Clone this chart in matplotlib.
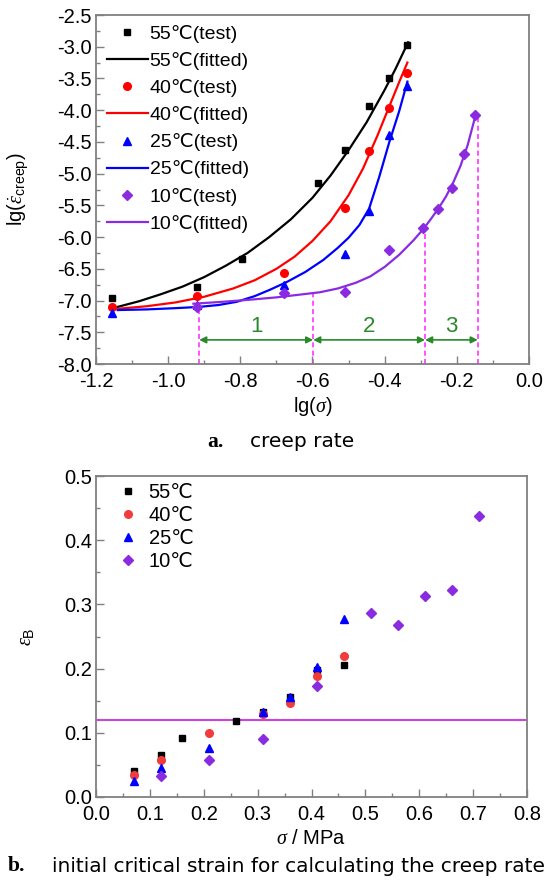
import matplotlib
matplotlib.use("Agg")
import matplotlib.pyplot as plt
import numpy as np
from matplotlib.ticker import MultipleLocator, FormatStrFormatter

plt.rcParams['font.family'] = ['Liberation Sans Narrow', 'Liberation Sans', 'DejaVu Sans']
plt.rcParams['axes.unicode_minus'] = False
plt.rcParams['mathtext.fontset'] = 'custom'
plt.rcParams['mathtext.rm'] = 'Liberation Sans'
plt.rcParams['mathtext.it'] = 'Liberation Serif:italic'

# ---- a. creep rate (test points) ----
sigma_55 = [0.07, 0.12, 0.16, 0.26, 0.31, 0.36, 0.41, 0.46]
lgrate_55 = [-6.96, -6.78, -6.35, -5.15, -4.62, -3.93, -3.50, -2.98]
sigma_40 = [0.07, 0.12, 0.21, 0.31, 0.36, 0.41, 0.46]
lgrate_40 = [-7.10, -6.93, -6.57, -5.54, -4.65, -3.96, -3.41]
sigma_25 = [0.07, 0.12, 0.21, 0.31, 0.36, 0.41, 0.46]
lgrate_25 = [-7.20, -7.07, -6.75, -6.27, -5.59, -4.39, -3.62]
sigma_10 = [0.12, 0.21, 0.31, 0.41, 0.51, 0.56, 0.61, 0.66, 0.71]
lgrate_10 = [-7.10, -6.88, -6.87, -6.20, -5.86, -5.56, -5.22, -4.69, -4.07]

# fitted curves
fit55_x = [-1.14, -1.08, -1.02, -0.96, -0.90, -0.84, -0.78, -0.72, -0.66,
           -0.60, -0.55, -0.50, -0.45, -0.40, -0.37, -0.335]
fit55_y = [-7.10, -7.01, -6.90, -6.78, -6.63, -6.45, -6.25, -6.00, -5.72,
           -5.38, -5.03, -4.63, -4.19, -3.68, -3.35, -2.93]
fit40_x = [-1.14, -1.06, -0.98, -0.90, -0.82, -0.76, -0.70, -0.65, -0.60,
           -0.55, -0.50, -0.46, -0.42, -0.39, -0.36, -0.337]
fit40_y = [-7.13, -7.09, -7.03, -6.94, -6.81, -6.68, -6.50, -6.31, -6.06,
           -5.75, -5.34, -4.92, -4.40, -3.98, -3.56, -3.25]
fit25_x = [-1.14, -1.06, -0.98, -0.914, -0.86, -0.81, -0.76, -0.718, -0.672,
           -0.62, -0.57, -0.53, -0.50, -0.47, -0.443, -0.415, -0.387, -0.36, -0.337]
fit25_y = [-7.15, -7.14, -7.12, -7.10, -7.07, -7.02, -6.93, -6.83, -6.71,
           -6.55, -6.36, -6.17, -6.01, -5.81, -5.55, -5.05, -4.50, -4.02, -3.55]
fit10_x = [-0.93, -0.85, -0.78, -0.70, -0.64, -0.58, -0.53, -0.48, -0.44, -0.40,
           -0.36, -0.32, -0.291, -0.27, -0.25, -0.23, -0.21, -0.19, -0.17, -0.149]
fit10_y = [-7.05, -7.02, -6.99, -6.95, -6.91, -6.87, -6.81, -6.72, -6.62, -6.47,
           -6.28, -6.05, -5.86, -5.70, -5.54, -5.36, -5.14, -4.88, -4.55, -4.10]

# stage boundaries (dashed) and zone labels
bound_x = [-0.914, -0.598, -0.288, -0.142]
bound_top = [-7.10, -6.89, -5.86, -4.07]
zone_labels = ['1', '2', '3']

# ---- b. initial critical strain ----
eps_55 = [0.040, 0.066, 0.092, 0.119, 0.132, 0.156, 0.198, 0.205]
eps_40 = [0.034, 0.057, 0.100, 0.129, 0.147, 0.189, 0.219]
eps_25 = [0.025, 0.045, 0.077, 0.133, 0.155, 0.203, 0.278]
eps_10 = [0.033, 0.057, 0.091, 0.173, 0.287, 0.268, 0.313, 0.323, 0.438]
eps_crit = 0.12

PURPLE = '#8a2be2'
MAGENTA = '#ff33ff'
GREEN = '#2a8a2a'
SPINE = '#808080'
FS = 14.5

fig = plt.figure(figsize=(5.52, 8.83), dpi=100)
ax1 = fig.add_axes([96/552, 1-364/883, 433/552, 349/883])
ax2 = fig.add_axes([96/552, 1-797/883, 431/552, 321/883])


def style_axes(ax):
    for s in ax.spines.values():
        s.set_color(SPINE)
        s.set_linewidth(1.3)
    ax.tick_params(which='both', direction='in', top=False, right=False,
                   color=SPINE, labelsize=FS, width=1.0)
    ax.tick_params(which='major', length=6)
    ax.tick_params(axis='y', which='major', pad=3)
    ax.tick_params(axis='x', which='major', pad=5.5)
    ax.tick_params(which='minor', length=3)


# ---------- top ----------
ax1.plot(np.log10(sigma_55), lgrate_55, 's', color='black', ms=5, label='55\u2103(test)')
ax1.plot(fit55_x, fit55_y, '-', color='black', lw=1.6, label='55\u2103(fitted)')
ax1.plot(np.log10(sigma_40), lgrate_40, 'o', color='red', ms=5.5, label='40\u2103(test)')
ax1.plot(fit40_x, fit40_y, '-', color='red', lw=1.6, label='40\u2103(fitted)')
ax1.plot(np.log10(sigma_25), lgrate_25, '^', color='blue', ms=6, label='25\u2103(test)')
ax1.plot(fit25_x, fit25_y, '-', color='blue', lw=1.6, label='25\u2103(fitted)')
ax1.plot(np.log10(sigma_10), lgrate_10, 'D', color=PURPLE, ms=5, label='10\u2103(test)')
ax1.plot(fit10_x, fit10_y, '-', color=PURPLE, lw=1.6, label='10\u2103(fitted)')

for bx, bt in zip(bound_x, bound_top):
    ax1.plot([bx, bx], [-8.0, bt], color=MAGENTA, lw=1.2, ls=(0, (3, 2)), zorder=1)

arrow_y = -7.62
for i, lab in enumerate(zone_labels):
    x0, x1 = bound_x[i], bound_x[i + 1]
    ax1.annotate('', xy=(x1, arrow_y), xytext=(x0, arrow_y),
                 arrowprops=dict(arrowstyle='<|-|>', color=GREEN, lw=1.2,
                                 mutation_scale=10, shrinkA=0, shrinkB=0))
    ax1.text((x0 + x1) / 2, arrow_y + 0.04, lab, color=GREEN, fontsize=16,
             ha='center', va='bottom')

ax1.set_xlim(-1.2, 0.0)
ax1.set_ylim(-8.0, -2.5)
ax1.xaxis.set_major_locator(MultipleLocator(0.2))
ax1.xaxis.set_minor_locator(MultipleLocator(0.1))
ax1.yaxis.set_major_locator(MultipleLocator(0.5))
ax1.yaxis.set_minor_locator(MultipleLocator(0.25))
ax1.xaxis.set_major_formatter(FormatStrFormatter('%.1f'))
ax1.yaxis.set_major_formatter(FormatStrFormatter('%.1f'))
style_axes(ax1)
ax1.set_xlabel(r'lg($\sigma$)', fontsize=FS)
ax1.set_ylabel(r'lg($\dot{\varepsilon}_{\rm creep}$)', fontsize=FS)
ax1.xaxis.set_label_coords(0.5, -0.09)
ax1.yaxis.set_label_coords(-0.15, 0.5)
ax1.legend(loc='upper left', bbox_to_anchor=(0.025, 0.972), frameon=False,
           fontsize=14, numpoints=1, handlelength=2.1, handletextpad=0.1,
           labelspacing=0.47, borderpad=0, borderaxespad=0)

# ---------- bottom ----------
ax2.plot(sigma_55, eps_55, 's', color='black', ms=5, label='55\u2103')
ax2.plot(sigma_40, eps_40, 'o', color='#f03c3c', ms=5.5, label='40\u2103')
ax2.plot(sigma_25, eps_25, '^', color='blue', ms=6, label='25\u2103')
ax2.plot(sigma_10, eps_10, 'D', color=PURPLE, ms=5, label='10\u2103')
ax2.axhline(eps_crit, color='#cc44dd', lw=1.5, zorder=1)

ax2.set_xlim(0.0, 0.8)
ax2.set_ylim(0.0, 0.5)
ax2.xaxis.set_major_locator(MultipleLocator(0.1))
ax2.xaxis.set_minor_locator(MultipleLocator(0.05))
ax2.yaxis.set_major_locator(MultipleLocator(0.1))
ax2.yaxis.set_minor_locator(MultipleLocator(0.05))
ax2.xaxis.set_major_formatter(FormatStrFormatter('%.1f'))
ax2.yaxis.set_major_formatter(FormatStrFormatter('%.1f'))
style_axes(ax2)
ax2.set_xlabel(r'$\sigma$ / MPa', fontsize=FS)
ax2.set_ylabel(r'$\varepsilon_{\rm B}$', fontsize=FS)
ax2.xaxis.set_label_coords(0.5, -0.1)
ax2.yaxis.set_label_coords(-0.14, 0.5)
ax2.legend(loc='upper left', bbox_to_anchor=(0.052, 0.978), frameon=False,
           fontsize=FS, numpoints=1, handlelength=1.0, handletextpad=0.5,
           labelspacing=0.2, borderpad=0, borderaxespad=0)

# ---------- captions ----------
fig.text(207/552, 1-442/883, 'a.', fontsize=15.5, fontweight='bold',
         family='Liberation Serif', ha='left', va='center')
fig.text(250/552, 1-442/883, 'creep rate', fontsize=14.5, family='DejaVu Sans',
         ha='left', va='center')
fig.text(8/552, 1-866/883, 'b.', fontsize=15.5, fontweight='bold',
         family='Liberation Serif', ha='left', va='center')
fig.text(52/552, 1-866/883, 'initial critical strain for calculating the creep rate',
         fontsize=14.5, family='DejaVu Sans', ha='left', va='center')

fig.savefig('out.png', dpi=100)
